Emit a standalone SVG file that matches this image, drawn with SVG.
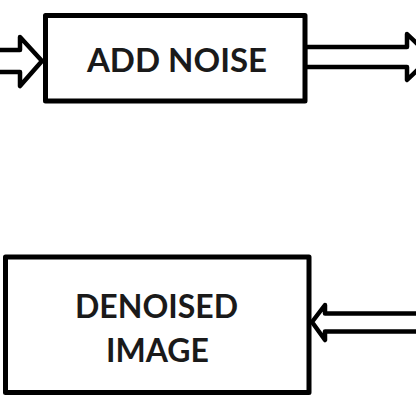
<svg xmlns="http://www.w3.org/2000/svg" width="416" height="416" viewBox="0 0 416 416">
  <style>
    .box { fill: #ffffff; stroke: #000000; stroke-width: 5; stroke-linejoin: round; }
    .arrow { fill: #ffffff; stroke: #000000; stroke-width: 4.5; stroke-linejoin: round; }
    .label { font-family: Lato, "Liberation Sans", sans-serif; font-weight: bold; fill: #1a1a1a; text-anchor: middle; }
  </style>
  <rect width="416" height="416" fill="#ffffff"/>
  <g id="connectors">
    <polygon class="arrow" points="-6,50 20,50 20,37 42,61 20,86 20,72 -6,72"/>
    <polygon class="arrow" points="305,47 407,47 407,34 431,57 407,80 407,67 305,67"/>
    <polygon class="arrow" points="422,313.5 325,313.5 325,305 312,322 325,340 325,331.5 422,331.5"/>
  </g>
  <g id="add-noise">
    <rect class="box" x="45.5" y="15.5" width="259.5" height="85.5"/>
    <text class="label" x="177" y="72" font-size="33">ADD NOISE</text>
  </g>
  <g id="denoised-image">
    <rect class="box" x="5.5" y="257" width="303.5" height="135.5"/>
    <text class="label" x="156.5" y="318" font-size="32">DENOISED</text>
    <text class="label" x="157.5" y="362" font-size="32">IMAGE</text>
  </g>
</svg>
